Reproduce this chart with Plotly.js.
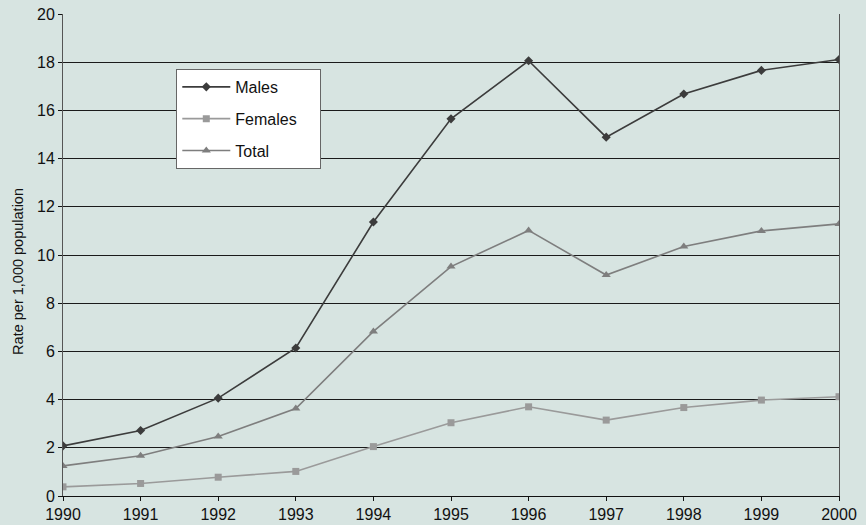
<!DOCTYPE html>
<html><head><meta charset="utf-8">
<script src="https://cdn.plot.ly/plotly-3.0.1.min.js"></script>
<style>html,body{margin:0;padding:0;background:#d7e4e1;}</style>
</head><body>
<div id="chart" style="width:866px;height:525px;"></div>
<script>
const years = [1990,1991,1992,1993,1994,1995,1996,1997,1998,1999,2000];
const males = [2.08,2.72,4.06,6.14,11.37,15.65,18.06,14.89,16.68,17.66,18.11];
const females = [0.38,0.52,0.78,1.02,2.05,3.04,3.70,3.15,3.67,3.98,4.12];
const total = [1.25,1.67,2.47,3.63,6.83,9.52,11.02,9.17,10.35,11.0,11.29];
const yTicks = [0,2,4,6,8,10,12,14,16,18,20];
const seriesNames = ['Males', 'Females', 'Total'];
const yTitle = 'Rate per 1,000 population';
const pad = '\u00a0\u00a0\u00a0\u00a0';

const traces = [
  {x: years, y: males, name: seriesNames[0], legendgroup: 'm', mode: 'lines+markers',
   line: {color: '#3c3c3c', width: 1.6},
   marker: {symbol: 'diamond', size: 7, color: '#3c3c3c'}},
  {x: years, y: females, name: seriesNames[1] + pad, legendgroup: 'f', mode: 'lines+markers',
   line: {color: '#9a9a9a', width: 1.6},
   marker: {symbol: 'square', size: 7, color: '#9a9a9a'}},
  {x: years, y: total, name: seriesNames[2], legendgroup: 't', mode: 'lines+markers',
   line: {color: '#7e7e7e', width: 1.6},
   marker: {symbol: 'triangle-up', size: 8, color: '#7e7e7e'}}
];

const layout = {
  width: 866, height: 525,
  paper_bgcolor: '#d7e4e1', plot_bgcolor: '#d7e4e1',
  margin: {l: 63, r: 27, t: 14, b: 29},
  font: {family: 'Liberation Sans, Arial, sans-serif', size: 16, color: '#111'},
  showlegend: true,
  legend: {x: 0.146, y: 0.886, xanchor: 'left', yanchor: 'top',
    bgcolor: '#ffffff', bordercolor: '#666', borderwidth: 1,
    font: {size: 16, color: '#111'}, traceorder: 'grouped', tracegroupgap: 8,
    itemwidth: 48},
  xaxis: {range: [1990, 2000], tickvals: years, ticktext: years.map(String),
    showgrid: false, zeroline: false, showline: true, linecolor: '#111', linewidth: 1,
    ticks: 'outside', ticklen: 4, tickcolor: '#111', tickfont: {size: 16}},
  yaxis: {range: [0, 20], tickvals: yTicks, ticktext: yTicks.map(String),
    showgrid: true, gridcolor: '#1a1a1a', gridwidth: 1, zeroline: false,
    showline: true, mirror: true, linecolor: '#555', linewidth: 1,
    ticks: 'outside', ticklen: 4, tickcolor: '#111', tickfont: {size: 16}},
  annotations: [{text: yTitle, xref: 'paper', yref: 'paper', x: -0.058, y: 0.467,
    xanchor: 'center', yanchor: 'middle', textangle: -90, showarrow: false,
    font: {size: 14.5, color: '#111'}}]
};
Plotly.newPlot('chart', traces, layout, {displayModeBar: false});
</script>
</body></html>
